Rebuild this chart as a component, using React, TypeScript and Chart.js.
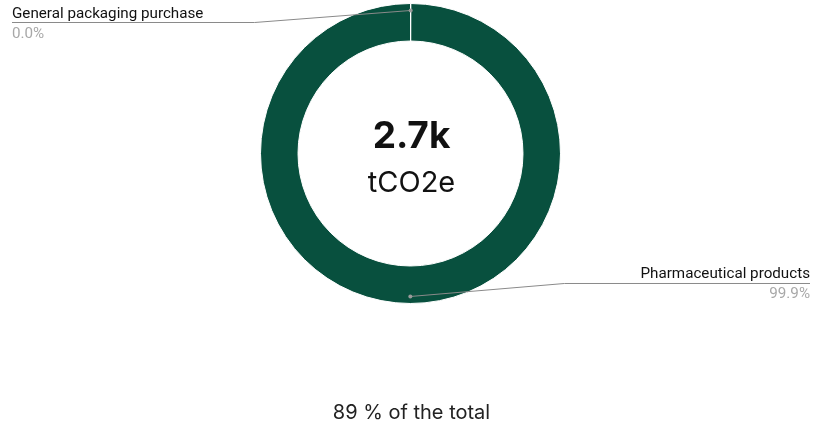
import React, { useEffect, useRef } from "react";
import { Chart, registerables } from "chart.js";

Chart.register(...registerables);

const categories = ["General packaging purchase", "Pharmaceutical products"];
const values = [1, 2699];
const percentLabels = ["0.0%", "99.9%"];
const colors = ["#7FB8A4", "#08503E"];
const totalLabel = "2.7k";
const unitLabel = "tCO2e";
const footerLabel = "89 % of the total";

const labelPlugin = {
  id: "labelPlugin",
  afterDraw(chart: any) {
    const ctx = chart.ctx;
    const meta = chart.getDatasetMeta(0);
    const W = chart.width;
    ctx.save();
    meta.data.forEach((arc: any, i: number) => {
      const p = arc.getProps(["x", "y", "startAngle", "endAngle", "outerRadius"], true);
      const mid = (p.startAngle + p.endAngle) / 2;
      const r = p.outerRadius - 7;
      const ax = p.x + Math.cos(mid) * r;
      const ay = p.y + Math.sin(mid) * r;
      const left = i === 0;
      const ly = ay + (ay < p.y ? 12 : -13);
      const ex = left ? p.x - 156 : p.x + 154;
      const endX = left ? 12 : W - 3;
      ctx.strokeStyle = "#8a8a8a";
      ctx.lineWidth = 1;
      ctx.beginPath();
      ctx.moveTo(ax, ay);
      ctx.lineTo(ex, ly);
      ctx.lineTo(endX, ly);
      ctx.stroke();
      ctx.fillStyle = "#9a9a9a";
      ctx.beginPath();
      ctx.arc(ax, ay, 2, 0, Math.PI * 2);
      ctx.fill();
      ctx.textAlign = left ? "left" : "right";
      ctx.textBaseline = "alphabetic";
      ctx.font = "15.2px Roboto";
      ctx.fillStyle = "#111111";
      ctx.fillText(categories[i], endX, ly - 5);
      ctx.fillStyle = "#a8a8a8";
      ctx.fillText(percentLabels[i], endX, ly + 15);
    });
    const c = meta.data[0];
    ctx.textAlign = "center";
    ctx.fillStyle = "#111111";
    ctx.font = "bold 37px Inter";
    ctx.fillText(totalLabel, c.x + 1, 148);
    ctx.font = "29px Inter";
    ctx.fillText(unitLabel, c.x + 1, 192);
    ctx.font = "20px Inter";
    ctx.fillStyle = "#222222";
    ctx.fillText(footerLabel, c.x + 1, 419);
    ctx.restore();
  },
};

export default function App() {
  const ref = useRef<HTMLCanvasElement>(null);
  useEffect(() => {
    const chart = new Chart(ref.current!, {
      type: "doughnut",
      data: {
        labels: categories,
        datasets: [
          {
            data: values,
            backgroundColor: colors,
            borderColor: "#ffffff",
            borderWidth: 1,
          },
        ],
      },
      options: {
        animation: false,
        responsive: false,
        cutout: "75%",
        layout: { padding: { top: 3, bottom: 118, left: 8, right: 0 } },
        plugins: { legend: { display: false }, tooltip: { enabled: false } },
      },
      plugins: [labelPlugin],
    });
    return () => chart.destroy();
  }, []);
  return (
    <div style={{ position: "fixed", left: 0, top: 0, width: 813, height: 422, background: "#fff" }}>
      <canvas ref={ref} width={813} height={422} style={{ width: 813, height: 422 }} />
    </div>
  );
}
